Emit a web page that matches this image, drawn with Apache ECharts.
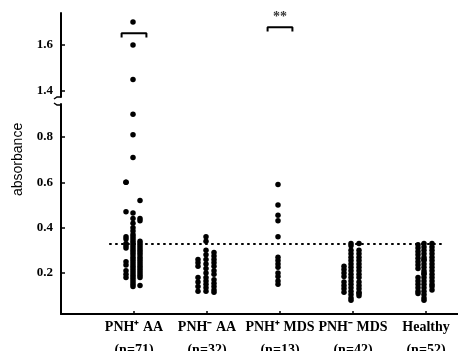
<!DOCTYPE html>
<html><head><meta charset="utf-8">
<script src="https://cdn.jsdelivr.net/npm/echarts@6/dist/echarts.min.js"></script>
<style>html,body{margin:0;padding:0;background:#fff}#c{width:458px;height:351px}</style>
</head><body><div id="c"></div>
<script>
const categories = ['PNH\u207A AA', 'PNH\u207B AA', 'PNH\u207A MDS', 'PNH\u207B MDS', 'Healthy'];
const groupSizes = ['(n=71)', '(n=32)', '(n=13)', '(n=42)', '(n=52)'];
const upperTicks = [1.4, 1.6];
const lowerTicks = [0.2, 0.4, 0.6, 0.8];
const cutoff = 0.328;

// values of each strip (left / middle / right) of every group
const aaPosLeft  = [0.60, 0.60, 0.47, 0.36, 0.35, 0.33, 0.32, 0.31, 0.25, 0.235, 0.21, 0.195, 0.18];
const aaPosMid   = [1.70, 1.60, 1.45, 0.90, 0.81, 0.71, 0.465, 0.44, 0.42, 0.40, 0.385, 0.37, 0.36, 0.35, 0.34, 0.33, 0.32, 0.31, 0.30, 0.29, 0.28, 0.27, 0.26, 0.25, 0.24, 0.23, 0.22, 0.21, 0.20, 0.19, 0.18, 0.17, 0.16, 0.15, 0.14];
const aaPosRight = [0.52, 0.44, 0.43, 0.34, 0.33, 0.32, 0.31, 0.30, 0.29, 0.28, 0.27, 0.26, 0.25, 0.24, 0.23, 0.22, 0.21, 0.20, 0.19, 0.18, 0.145];

const aaNegLeft  = [0.26, 0.245, 0.23, 0.18, 0.16, 0.14, 0.12];
const aaNegMid   = [0.36, 0.34, 0.30, 0.28, 0.26, 0.24, 0.22, 0.20, 0.18, 0.165, 0.15, 0.135, 0.12];
const aaNegRight = [0.29, 0.275, 0.26, 0.245, 0.23, 0.21, 0.195, 0.17, 0.155, 0.14, 0.125, 0.115];

const mdsPosMid  = [0.59, 0.50, 0.455, 0.43, 0.36, 0.27, 0.255, 0.24, 0.225, 0.20, 0.185, 0.165, 0.15];

const mdsNegLeft  = [0.23, 0.215, 0.20, 0.185, 0.16, 0.145, 0.13, 0.115];
const mdsNegMid   = [0.33, 0.32, 0.30, 0.285, 0.27, 0.255, 0.24, 0.225, 0.21, 0.195, 0.18, 0.165, 0.15, 0.135, 0.12, 0.105, 0.09, 0.08];
const mdsNegRight = [0.33, 0.30, 0.285, 0.27, 0.255, 0.24, 0.225, 0.21, 0.195, 0.18, 0.16, 0.145, 0.13, 0.115, 0.11, 0.10];

const healthyLeft  = [0.325, 0.31, 0.295, 0.28, 0.265, 0.25, 0.235, 0.22, 0.18, 0.165, 0.15, 0.135, 0.12, 0.11];
const healthyMid   = [0.33, 0.315, 0.30, 0.285, 0.27, 0.255, 0.24, 0.225, 0.21, 0.195, 0.18, 0.165, 0.15, 0.135, 0.12, 0.105, 0.09, 0.08, 0.26, 0.20];
const healthyRight = [0.33, 0.315, 0.30, 0.285, 0.27, 0.255, 0.24, 0.225, 0.21, 0.195, 0.18, 0.165, 0.15, 0.14, 0.125];

// significance brackets: group index and level, label
const bracketGroups = [1, 3];
const bracketLevels = [1.651, 1.677];
const bracketLabels = ['', '**'];

const PX = 73; // pixels per category step
const strips = [
  [1, aaPosLeft, -8], [1, aaPosMid, -1], [1, aaPosRight, 6],
  [2, aaNegLeft, -9], [2, aaNegMid, -1], [2, aaNegRight, 7],
  [3, mdsPosMid, -2],
  [4, mdsNegLeft, -9], [4, mdsNegMid, -2], [4, mdsNegRight, 6],
  [5, healthyLeft, -8], [5, healthyMid, -2], [5, healthyRight, 6]
];
const upperPts = [], lowerPts = [];
strips.forEach(([g, vals, off]) => {
  vals.forEach(v => {
    const p = [g + off / PX, v];
    (v > 1 ? upperPts : lowerPts).push(p);
  });
});

const serif = 'Liberation Serif';
const ink = '#000';

const bracketSeries = bracketGroups.map((g, i) => ({
  type: 'line', xAxisIndex: 0, yAxisIndex: 0, symbol: 'none', silent: true,
  lineStyle: { color: ink, width: 2 },
  data: [[g - 0.17, bracketLevels[i] - 0.018], [g - 0.17, bracketLevels[i]], [g + 0.17, bracketLevels[i]], [g + 0.17, bracketLevels[i] - 0.018]]
}));

const chart = echarts.init(document.getElementById('c'), null, { renderer: 'canvas' });
chart.setOption({
  animation: false,
  backgroundColor: '#fff',
  grid: [
    { left: 61, right: 0, top: 13, height: 84, outerBoundsMode: 'none', containLabel: false },
    { left: 61, right: 0, top: 104, height: 210, outerBoundsMode: 'none', containLabel: false }
  ],
  xAxis: [
    { gridIndex: 0, type: 'value', min: 0, max: 397 / PX, show: false },
    { gridIndex: 1, type: 'value', min: 0, max: 397 / PX,
      axisLine: { lineStyle: { color: ink, width: 2 } },
      axisTick: { inside: true, length: 3, customValues: [1, 2, 3, 4, 5], lineStyle: { color: ink, width: 1.5 } },
      splitLine: { show: false },
      axisLabel: { customValues: [1, 2, 3, 4, 5], margin: 2,
        formatter: v => categories[v - 1] + '\n' + groupSizes[v - 1],
        fontFamily: serif, fontWeight: 'bold', fontSize: 14, color: ink, lineHeight: 23 }
    }
  ],
  yAxis: [
    { gridIndex: 0, type: 'value', min: 1.4 - 6 / 230, max: 1.6 + 32 / 230,
      axisLine: { show: true, lineStyle: { color: ink, width: 2 } },
      axisTick: { show: true, inside: true, length: 4, customValues: upperTicks, lineStyle: { color: ink, width: 1.5 } },
      splitLine: { show: false },
      axisLabel: { customValues: upperTicks, formatter: v => v.toFixed(1), margin: 8,
        fontFamily: serif, fontWeight: 'bold', fontSize: 13, color: ink } },
    { gridIndex: 1, type: 'value', min: 0.2 - 41 / 226.67, max: 0.8 + 33 / 226.67,
      axisLine: { show: true, lineStyle: { color: ink, width: 2 } },
      axisTick: { show: true, inside: true, length: 4, customValues: lowerTicks, lineStyle: { color: ink, width: 1.5 } },
      splitLine: { show: false },
      axisLabel: { customValues: lowerTicks, formatter: v => v.toFixed(1), margin: 8,
        fontFamily: serif, fontWeight: 'bold', fontSize: 13, color: ink } }
  ],
  series: [
    { type: 'scatter', xAxisIndex: 0, yAxisIndex: 0, data: upperPts, symbolSize: 5.5, itemStyle: { color: ink, opacity: 1 } },
    { type: 'scatter', xAxisIndex: 1, yAxisIndex: 1, data: lowerPts, symbolSize: 5.5, itemStyle: { color: ink, opacity: 1 } },
    { type: 'line', xAxisIndex: 1, yAxisIndex: 1, symbol: 'none', silent: true,
      data: [[0.66, cutoff], [5.23, cutoff]],
      lineStyle: { color: ink, width: 2, type: [2.5, 3.5] } },
    ...bracketSeries,
    { type: 'scatter', xAxisIndex: 0, yAxisIndex: 0, symbol: 'circle', symbolSize: 1, silent: true,
      itemStyle: { color: 'rgba(0,0,0,0)' },
      data: bracketGroups.map((g, i) => [g, bracketLevels[i] + 0.045]),
      label: { show: true, position: 'inside', formatter: p => bracketLabels[p.dataIndex],
        fontFamily: serif, fontWeight: 'bold', fontSize: 14, color: ink } }
  ],
  graphic: [
    { type: 'text', rotation: Math.PI / 2, x: 11, y: 196,
      style: { text: 'absorbance', font: '14px "Liberation Sans"', fill: ink } },
    { type: 'polyline', shape: { points: [[54, 99], [57, 97], [61, 97]] }, style: { stroke: ink, lineWidth: 1.5, fill: null } },
    { type: 'polyline', shape: { points: [[54, 103], [57, 105], [61, 105]] }, style: { stroke: ink, lineWidth: 1.5, fill: null } }
  ]
});
</script></body></html>
